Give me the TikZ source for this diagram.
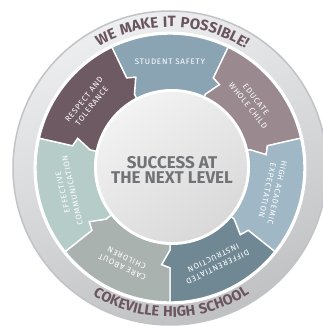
\documentclass[tikz,border=0pt]{standalone}
\usepackage{fontspec}
\setmainfont{Fira Sans}
\newfontfamily\segfont[LetterSpace=10]{Fira Sans}
\newfontfamily\ringfont[LetterSpace=6]{Fira Sans}
\usetikzlibrary{decorations.text}
\usepackage{xcolor}
\definecolor{ss}{HTML}{8AA4B4}
\definecolor{ed}{HTML}{9A8A8F}
\definecolor{ha}{HTML}{A0B7C6}
\definecolor{di}{HTML}{708894}
\definecolor{ca}{HTML}{AAB2AF}
\definecolor{co}{HTML}{B6CCC8}
\definecolor{re}{HTML}{6E5A62}
\definecolor{rg}{HTML}{6B5560}
\definecolor{ct}{HTML}{717376}
\definecolor{band}{HTML}{E2E3E5}
\definecolor{rim}{HTML}{C2C3C6}

% one ring segment, #1 = its counter-clockwise end angle
\newcommand{\wedgepath}[1]{%
  (#1:75) -- (#1:82) -- ({#1-5}:97) -- (#1:100) -- (#1:134)
  arc[start angle=#1, end angle={#1-51.4286}, radius=134]
  -- ({#1-51.4286}:100) -- ({#1-56.4286}:97) -- ({#1-51.4286}:82)
  -- ({#1-51.4286}:75)
  arc[start angle={#1-51.4286}, end angle=#1, radius=75] -- cycle}

\begin{document}
\begin{tikzpicture}[
      x = 1pt, y = 1pt, % one unit per pixel
      seg/.style = {draw = white, line width = 1.4pt}, % segment border
      lbl/.style = {
        text = white,
        font = \segfont\fontsize{8}{10}\selectfont,
        align = center,
        inner sep = 0pt
      },
    ]

    \useasboundingbox (-170,-158) rectangle (152,168);

    % outer band
    \shade[top color = band!60!white, bottom color = band!85!black,
      shading angle = 20] (0,0) circle[radius=157];
    \draw[rim, line width = 1.5pt] (0,0) circle[radius=157];
    \fill[white] (0,0) circle[radius=136.5];

    % segments
    \fill[ss, seg] \wedgepath{115.7143};
    \fill[ed, seg] \wedgepath{64.2857};
    \fill[ha, seg] \wedgepath{12.8571};
    \fill[di, seg] \wedgepath{-38.5714};
    \fill[ca, seg] \wedgepath{-90};
    \fill[co, seg] \wedgepath{-141.4286};
    \fill[re, seg] \wedgepath{-192.8571};

    % centre disc
    \fill[white] (2,1) circle[radius=78];
    \shade[top color = gray!10, bottom color = gray!30,
      shading angle = 35] (2,1) circle[radius=75];

    \node[lbl] (safety) at (90:106) {STUDENT SAFETY};
    \node[lbl, rotate = -51.43] (educate) at (38.57:105) {EDUCATE\\WHOLE CHILD};
    \node[lbl, rotate = -102.86] (academic) at (-12.86:105) {HIGH ACADEMIC\\EXPECTATION};
    \node[lbl, rotate = -154.29] (diff) at (-64.29:105) {DIFFERENTIATED\\INSTRUCTION};
    \node[lbl, rotate = 154.29] (care) at (-115.71:105) {CARE ABOUT\\CHILDREN};
    \node[lbl, rotate = 102.86] (comm) at (-167.14:105) {EFFECTIVE\\COMMUNICATION};
    \node[lbl, rotate = 51.43] (respect) at (141.43:105) {RESPECT AND\\TOLERANCE};

    \node[text = ct, font = \bfseries\fontsize{17}{15}\selectfont,
      align = center, inner sep = 0pt] (title) at (2,-1.5)
      {SUCCESS AT\\THE NEXT LEVEL};

    % texts on the band
    \path[decorate, decoration = {text along path, text align = center,
        text color = rg,
        text = {|\ringfont\bfseries\fontsize{15}{15}\selectfont|WE MAKE IT POSSIBLE!}}]
      (150:141) arc[start angle=150, end angle=28, radius=141];
    \path[decorate, decoration = {text along path, text align = center,
        text color = rg,
        text = {|\ringfont\bfseries\fontsize{14.5}{14.5}\selectfont|COKEVILLE HIGH SCHOOL}}]
      (200:149) arc[start angle=200, end angle=341, radius=149];

  \end{tikzpicture}
\end{document}
